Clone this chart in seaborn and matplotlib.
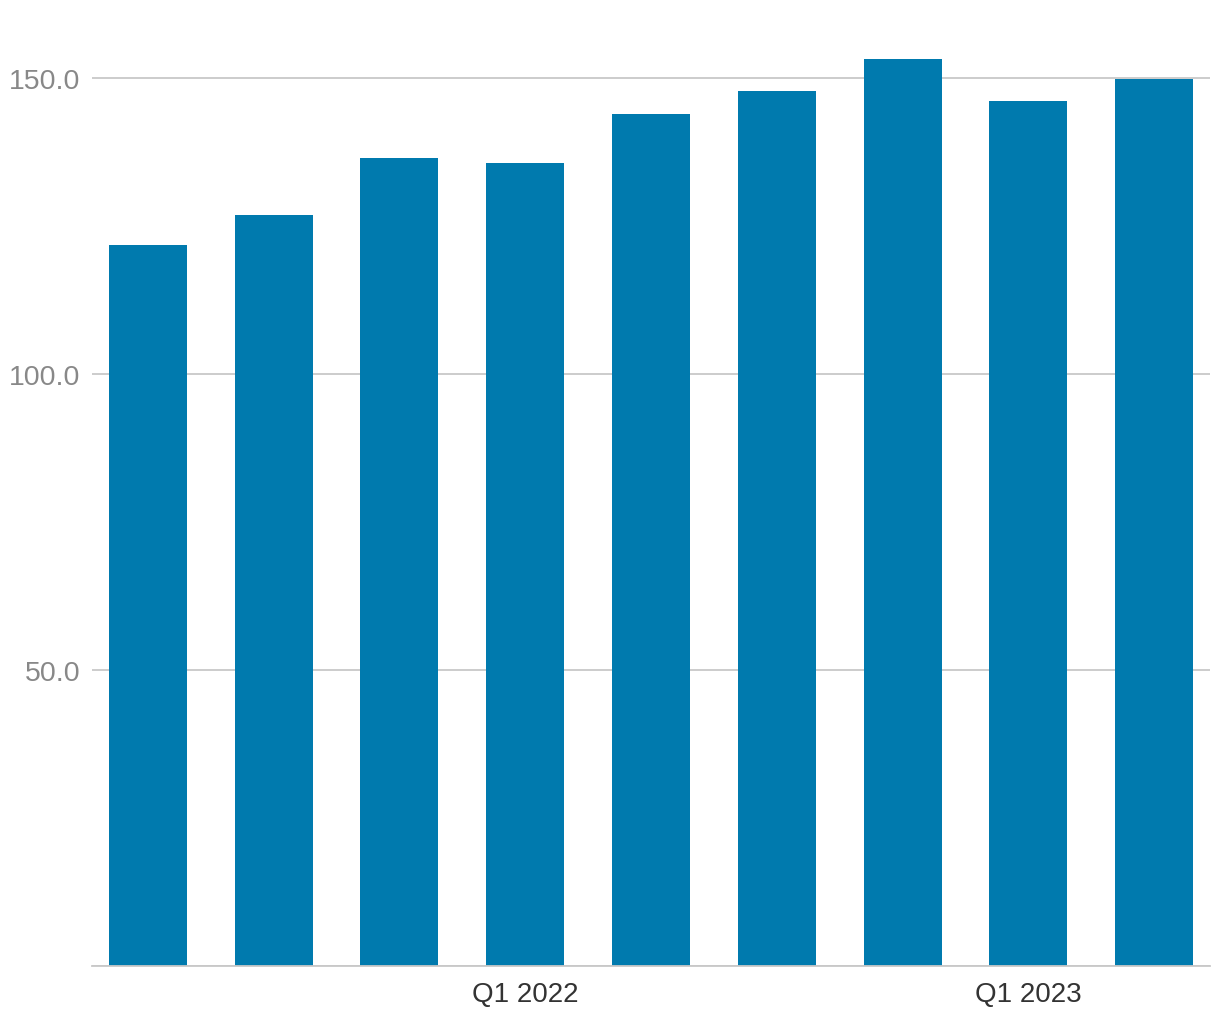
import numpy as np
import pandas as pd
import matplotlib
matplotlib.use("Agg")
import matplotlib.pyplot as plt
import seaborn as sns

# data
quarters = ["Q2 2021", "Q3 2021", "Q4 2021", "Q1 2022", "Q2 2022",
            "Q3 2022", "Q4 2022", "Q1 2023", "Q2 2023"]
values = [121.8, 126.9, 136.5, 135.6, 143.9, 147.8, 153.2, 146.1, 149.8]
shown_labels = ["Q1 2022", "Q1 2023"]
y_ticks = [0, 50, 100, 150]

sns.set_style("white")
plt.rcParams['font.family'] = ['Liberation Sans', 'DejaVu Sans']

df = pd.DataFrame({"quarter": quarters, "value": values})

fig = plt.figure(figsize=(12.2, 10.2), dpi=100)
ax = fig.add_axes([92 / 1220, 1 - 967 / 1020, (1210 - 92) / 1220, (967 - 37.6) / 1020])

sns.barplot(data=df, x="quarter", y="value", color="#007aae", saturation=1,
            width=0.62, linewidth=0, ax=ax, zorder=3)

ax.set_xlim(-0.445, len(quarters) - 1 + 0.445)
ax.set_ylim(0, 157)

# gridlines
ax.set_yticks(y_ticks)
ax.set_yticklabels([""] + [f"{v:.1f}" for v in y_ticks[1:]])
ax.grid(axis="y", color="#c8c8c8", linewidth=1.3, zorder=0)
ax.set_axisbelow(True)

ax.set_xticks(range(len(quarters)))
ax.set_xticklabels([q if q in shown_labels else "" for q in quarters])

ax.tick_params(axis="y", length=0, pad=8.6, labelsize=20.5, labelcolor="#888888")
ax.tick_params(axis="x", length=0, pad=11, labelsize=20, labelcolor="#333333")

for s in ["top", "right", "left"]:
    ax.spines[s].set_visible(False)
ax.spines["bottom"].set_color("#c8c8c8")
ax.spines["bottom"].set_linewidth(1.3)
ax.spines["bottom"].set_zorder(4)

ax.set_xlabel("")
ax.set_ylabel("")

fig.savefig("out.png", dpi=100)
